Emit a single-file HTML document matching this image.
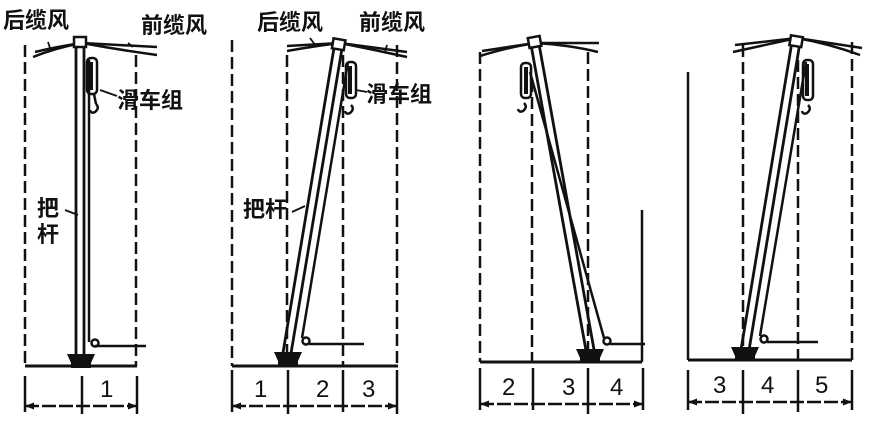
<!DOCTYPE html>
<html><head><meta charset="utf-8"><style>
html,body{margin:0;padding:0;background:#fff;}
svg{display:block;}
text{font-family:"Liberation Sans","Noto Sans CJK SC",sans-serif;fill:#111;}
.cn{font-size:22px;font-weight:bold;}
.num{font-size:24px;}
</style></head><body>
<svg width="870" height="423" viewBox="0 0 870 423" xmlns="http://www.w3.org/2000/svg">
<defs>
<g id="mast">
  <line x1="-4" y1="0" x2="-4" y2="-310" stroke="#111" stroke-width="2.8"/>
  <line x1="4" y1="0" x2="4" y2="-310" stroke="#111" stroke-width="2.8"/>
  <rect x="-6" y="-318" width="12" height="10" fill="#fff" stroke="#111" stroke-width="2.5"/>
</g>
<g id="base">
  <path d="M-14,-13 L14,-13 L10,-4 L-10,-4 Z" fill="#111"/>
  <rect x="-10" y="-4" width="20" height="5" fill="#111"/>
</g>
</defs>
<g stroke="#111" fill="none" stroke-width="2.5">
<!-- Panel 1 -->
<line x1="25" y1="45" x2="25" y2="366" stroke-dasharray="12,5"/>
<line x1="136" y1="55" x2="136" y2="366" stroke-dasharray="12,5"/>
<line x1="25" y1="366" x2="137" y2="366" stroke-width="3"/>
<path d="M33,57 Q55,48 82,43 L157,47"/>
<path d="M35,52 Q55,47 82,43 Q120,50 157,55"/>
<line x1="48" y1="42" x2="50" y2="48" stroke-width="1.8"/>
<line x1="128" y1="43" x2="133" y2="47" stroke-width="1.8"/>
<use href="#mast" x="80" y="355"/>
<line x1="89" y1="60" x2="89" y2="342"/>
<rect x="87" y="58" width="10" height="36" rx="4"/>
<line x1="91" y1="62" x2="91" y2="90" stroke-width="4"/>
<path d="M96,104 q4,4 -1,8 q-4,2 -5,-2"/>
<line x1="94" y1="94" x2="96" y2="104"/>
<line x1="100" y1="90" x2="117" y2="96" stroke-width="1.8"/>
<circle cx="95" cy="343" r="3.5"/>
<line x1="95" y1="346" x2="146" y2="346"/>
<line x1="65" y1="210" x2="78" y2="215" stroke-width="1.8"/>
<line x1="25" y1="376" x2="25" y2="412"/>
<line x1="82" y1="376" x2="82" y2="414"/>
<line x1="137" y1="376" x2="137" y2="414"/>
<line x1="25" y1="406" x2="137" y2="406" stroke-dasharray="14,3"/>
<!-- Panel 2 -->
<line x1="232" y1="40" x2="232" y2="366" stroke-dasharray="12,5"/>
<line x1="287" y1="55" x2="287" y2="366" stroke-dasharray="12,5"/>
<line x1="343" y1="55" x2="343" y2="366" stroke-dasharray="12,5"/>
<line x1="397" y1="45" x2="397" y2="366" stroke-dasharray="12,5"/>
<line x1="232" y1="366" x2="398" y2="366" stroke-width="3"/>
<path d="M287,51 Q315,46 340,43 L407,52"/>
<path d="M287,46 L340,43 Q375,50 407,57"/>
<line x1="310" y1="38" x2="316" y2="46" stroke-width="1.8"/>
<line x1="387" y1="45" x2="385" y2="52" stroke-width="1.8"/>
<g transform="rotate(9.5 287 353)"><use href="#mast" x="287" y="353"/></g>
<line x1="348" y1="62" x2="302" y2="338"/>
<rect x="346" y="62" width="10" height="36" rx="4"/>
<line x1="350" y1="66" x2="350" y2="94" stroke-width="4"/>
<path d="M351,105 q4,4 -1,8 q-4,2 -5,-2"/>
<line x1="356" y1="90" x2="367" y2="92" stroke-width="1.8"/>
<circle cx="306" cy="341" r="3.5"/>
<line x1="309" y1="344" x2="364" y2="344"/>
<line x1="292" y1="212" x2="305" y2="206" stroke-width="1.8"/>
<line x1="232" y1="370" x2="232" y2="412"/>
<line x1="288" y1="370" x2="288" y2="414"/>
<line x1="343" y1="370" x2="343" y2="412"/>
<line x1="397" y1="370" x2="397" y2="414"/>
<line x1="232" y1="406" x2="397" y2="406" stroke-dasharray="14,3"/>
<!-- Panel 3 -->
<line x1="480" y1="52" x2="480" y2="362" stroke-dasharray="12,5"/>
<line x1="532" y1="80" x2="532" y2="362" stroke-dasharray="12,5"/>
<line x1="588" y1="52" x2="588" y2="362" stroke-dasharray="12,5"/>
<line x1="642" y1="210" x2="642" y2="362"/>
<line x1="480" y1="362" x2="642" y2="362" stroke-width="3"/>
<path d="M480,56 Q505,48 535,43 L599,43"/>
<path d="M482,51 L535,43 Q570,45 598,52"/>
<g transform="rotate(-10.2 590 350)"><use href="#mast" x="590" y="350"/></g>
<line x1="530" y1="72" x2="604" y2="338"/>
<rect x="521" y="63" width="10" height="35" rx="4"/>
<line x1="526" y1="67" x2="526" y2="94" stroke-width="4"/>
<path d="M524,103 q4,4 -1,8 q-4,2 -5,-2"/>
<circle cx="607" cy="341" r="3.5"/>
<line x1="610" y1="344" x2="645" y2="344"/>
<line x1="480" y1="368" x2="480" y2="410"/>
<line x1="533" y1="368" x2="533" y2="410"/>
<line x1="588" y1="368" x2="588" y2="414"/>
<line x1="643" y1="368" x2="643" y2="410"/>
<line x1="480" y1="404" x2="643" y2="404" stroke-dasharray="14,3"/>
<!-- Panel 4 -->
<line x1="688" y1="72" x2="688" y2="360"/>
<line x1="743" y1="45" x2="743" y2="360" stroke-dasharray="12,5"/>
<line x1="798" y1="60" x2="798" y2="360" stroke-dasharray="12,5"/>
<line x1="852" y1="42" x2="852" y2="360" stroke-dasharray="12,5"/>
<line x1="688" y1="360" x2="852" y2="360" stroke-width="3"/>
<path d="M733,52 L797,38 Q830,44 860,55"/>
<path d="M735,45 L797,38 L862,48"/>
<g transform="rotate(9.4 745 350)"><use href="#mast" x="745" y="350"/></g>
<line x1="806" y1="62" x2="760" y2="336"/>
<rect x="803" y="60" width="10" height="40" rx="4"/>
<line x1="807" y1="64" x2="807" y2="96" stroke-width="4"/>
<path d="M808,105 q4,4 -1,8 q-4,2 -5,-2"/>
<circle cx="764" cy="339" r="3.5"/>
<line x1="767" y1="342" x2="818" y2="342"/>
<line x1="688" y1="370" x2="688" y2="410"/>
<line x1="743" y1="370" x2="743" y2="414"/>
<line x1="798" y1="370" x2="798" y2="412"/>
<line x1="852" y1="370" x2="852" y2="410"/>
<line x1="688" y1="402" x2="852" y2="402" stroke-dasharray="14,3"/>
</g>
<use href="#base" x="81" y="367"/>
<use href="#base" x="288" y="365"/>
<use href="#base" x="590" y="362"/>
<use href="#base" x="745" y="360"/>
<g fill="#111">
<path d="M25,406 l9,-3.5 v7z M137,406 l-9,-3.5 v7z M232,406 l9,-3.5 v7z M397,406 l-9,-3.5 v7z M480,404 l9,-3.5 v7z M643,404 l-9,-3.5 v7z M688,402 l9,-3.5 v7z M852,402 l-9,-3.5 v7z"/>
</g>
<text class="cn" x="3" y="28">后缆风</text>
<text class="cn" x="141" y="33">前缆风</text>
<text class="cn" x="117" y="108">滑车组</text>
<text class="cn" x="37" y="216">把</text>
<text class="cn" x="37" y="242">杆</text>
<text class="cn" x="257" y="30">后缆风</text>
<text class="cn" x="359" y="30">前缆风</text>
<text class="cn" x="366" y="102">滑车组</text>
<text class="cn" x="243" y="217">把杆</text>
<text class="num" x="100" y="397">1</text>
<text class="num" x="254" y="397">1</text>
<text class="num" x="316" y="397">2</text>
<text class="num" x="362" y="397">3</text>
<text class="num" x="502" y="395">2</text>
<text class="num" x="562" y="395">3</text>
<text class="num" x="610" y="395">4</text>
<text class="num" x="713" y="393">3</text>
<text class="num" x="761" y="393">4</text>
<text class="num" x="815" y="393">5</text>
</svg>
</body></html>
